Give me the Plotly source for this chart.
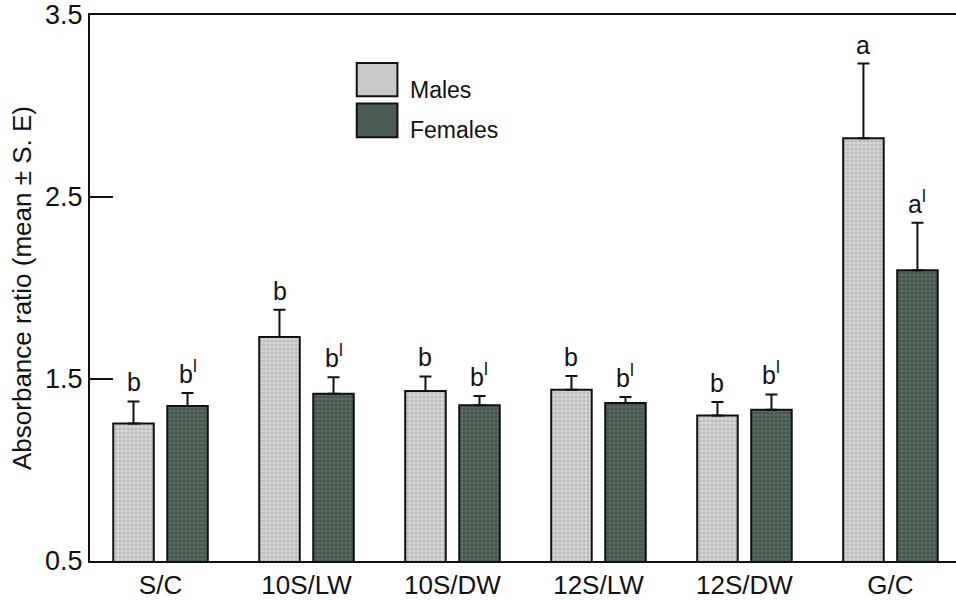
import plotly.graph_objects as go

categories = ["S/C", "10S/LW", "10S/DW", "12S/LW", "12S/DW", "G/C"]
males_mean = [1.255, 1.731, 1.434, 1.441, 1.300, 2.823]
males_se = [0.122, 0.149, 0.080, 0.075, 0.073, 0.410]
females_mean = [1.352, 1.419, 1.356, 1.368, 1.331, 2.097]
females_se = [0.071, 0.091, 0.050, 0.033, 0.084, 0.261]
males_letters = ["b", "b", "b", "b", "b", "a"]
females_letters = ["b<sup>l</sup>"] * 5 + ["a<sup>l</sup>"]
y_ticks = [0.5, 1.5, 2.5, 3.5]

FONT = "Liberation Sans, Arial, sans-serif"
MALE_COLOR = "#c9c9c9"
FEMALE_COLOR = "#4b5b52"

fig = go.Figure()
fig.add_trace(go.Bar(
    name="Males", x=categories, y=males_mean,
    marker=dict(color=MALE_COLOR, line=dict(color="#111111", width=2),
                pattern=dict(shape=".", fgcolor="#9a9a9a", bgcolor="#d2d2d2", size=4, solidity=0.35)),
    error_y=dict(type="data", array=males_se, arrayminus=[0] * len(males_se), symmetric=False,
                 color="#111111", thickness=2, width=6),
    showlegend=False,
))
fig.add_trace(go.Bar(
    name="Females", x=categories, y=females_mean,
    marker=dict(color=FEMALE_COLOR, line=dict(color="#111111", width=2),
                pattern=dict(shape=".", fgcolor="#2f3a34", bgcolor="#56675d", size=4, solidity=0.35)),
    error_y=dict(type="data", array=females_se, arrayminus=[0] * len(females_se), symmetric=False,
                 color="#111111", thickness=2, width=6),
    showlegend=False,
))

OFFSET_PX = 27
for cat, m, s, lab in zip(categories, males_mean, males_se, males_letters):
    fig.add_annotation(x=cat, y=m + s, text=lab, xref="x", yref="y", showarrow=False,
                       xshift=-OFFSET_PX, yanchor="bottom", yshift=3,
                       font=dict(family=FONT, size=25, color="#111111"))
for cat, m, s, lab in zip(categories, females_mean, females_se, females_letters):
    fig.add_annotation(x=cat, y=m + s, text=lab, xref="x", yref="y", showarrow=False,
                       xshift=OFFSET_PX, yanchor="bottom", yshift=3,
                       font=dict(family=FONT, size=25, color="#111111"))

# manual legend (large swatches as in the original)
legend_items = [("Males", MALE_COLOR, 0.912, 0.851, 0.863),
                ("Females", FEMALE_COLOR, 0.838, 0.776, 0.790)]
for name, col, y1, y0, ty in legend_items:
    fig.add_shape(type="rect", xref="paper", yref="paper", x0=0.308, x1=0.355, y0=y0, y1=y1,
                  fillcolor=col, line=dict(color="#111111", width=2))
    fig.add_annotation(x=0.367, y=ty, xref="paper", yref="paper", text=name, showarrow=False,
                       xanchor="left", yanchor="middle",
                       font=dict(family=FONT, size=23, color="#111111"))

fig.update_layout(
    width=956, height=600,
    margin=dict(l=90, r=0, t=14, b=37),
    paper_bgcolor="white", plot_bgcolor="white",
    barmode="group", bargap=0.26, bargroupgap=0.25,
    font=dict(family=FONT, size=26, color="#111111"),
    xaxis=dict(type="category", range=[-0.483, 5.449], showline=True, linecolor="#111111",
               linewidth=2, mirror=True, ticks="", showgrid=False, zeroline=False,
               tickfont=dict(size=26)),
    yaxis=dict(range=[0.5, 3.5], tickmode="array", tickvals=y_ticks,
               ticktext=[f"{v:.1f}" for v in y_ticks], ticklabeloverflow="allow",
               showline=True, linecolor="#111111", linewidth=2, ticks="inside", ticklen=23,
               tickwidth=2, tickcolor="#111111", showgrid=False, zeroline=False,
               tickfont=dict(size=27),
               title=dict(text="Absorbance ratio (mean ± S. E)", font=dict(size=26), standoff=6)),
)

fig.write_html("out.html", config={"displayModeBar": False},
               post_script="document.body.style.margin='0';document.body.style.overflow='hidden';")
